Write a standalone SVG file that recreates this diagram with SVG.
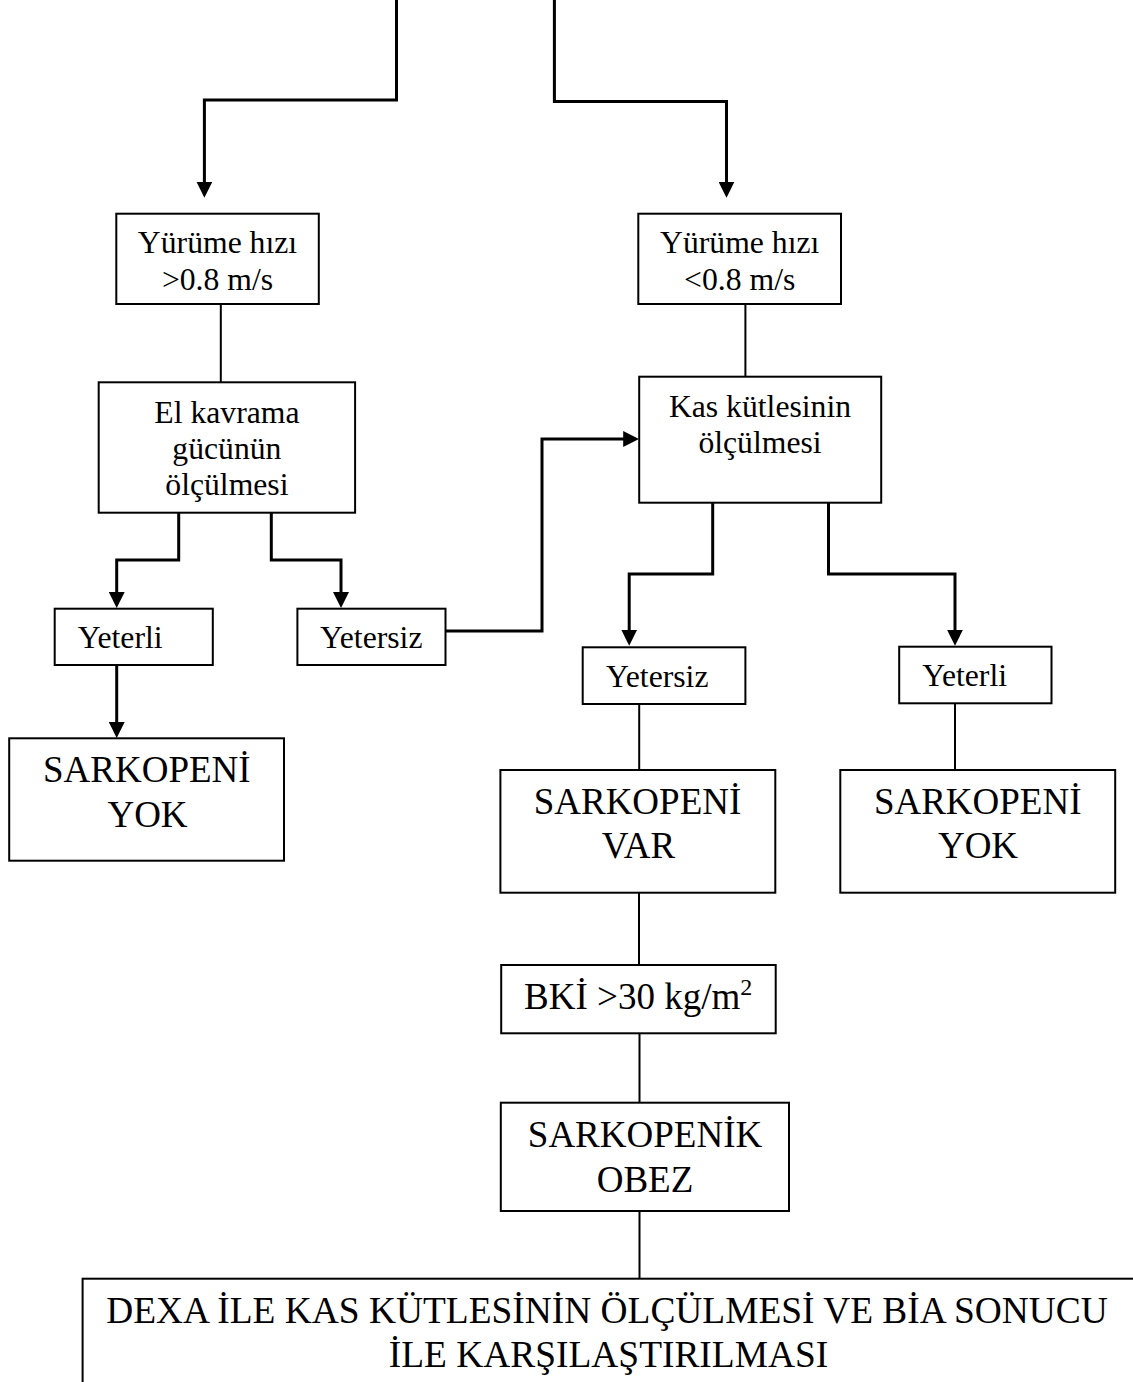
<svg xmlns="http://www.w3.org/2000/svg" width="1133" height="1382" viewBox="0 0 1133 1382">
<style>
.box{fill:#fff;stroke:#000;stroke-width:2}
.arr{fill:none;stroke:#000;stroke-width:3;marker-end:url(#ah)}
.ln{fill:none;stroke:#000;stroke-width:2}
text{font-family:"Liberation Serif","Times New Roman",serif;fill:#000;text-anchor:middle}
.s{font-size:31.7px}
.b{font-size:37px}
.d{font-size:37.4px}
</style>
<defs>
<marker id="ah" markerUnits="userSpaceOnUse" markerWidth="16" markerHeight="16" viewBox="0 0 15 15" refX="5" refY="7.5" orient="auto">
<path d="M0,0 L15,7.5 L0,15 z" fill="#000"/>
</marker>
</defs>
<rect width="1133" height="1382" fill="#fff"/>
<g id="connectors">
<path class="arr" d="M396.5,0 V100 H204.4 V187"/>
<path class="arr" d="M554.4,0 V101.5 H726.5 V187"/>
<path class="ln" d="M220.8,304 V382.3"/>
<path class="ln" d="M745.4,304 V376.7"/>
<path class="arr" d="M178.7,512.7 V560 H116.7 V597.3"/>
<path class="arr" d="M271.3,512.7 V560 H341 V597.3"/>
<path class="arr" d="M445.5,631 H542 V439 H628.5"/>
<path class="arr" d="M116.7,665 V727.3"/>
<path class="arr" d="M712.7,502.7 V574 H629.2 V635"/>
<path class="arr" d="M828.5,502.7 V574 H955 V635"/>
<path class="ln" d="M639.2,704 V770"/>
<path class="ln" d="M955,703.3 V770"/>
<path class="ln" d="M639,892.7 V965"/>
<path class="ln" d="M639.5,1033.3 V1102.7"/>
<path class="ln" d="M639.5,1211 V1278.7"/>
</g>
<g id="n-yurume-hizli">
<rect class="box" x="116.3" y="213.7" width="202.5" height="90.3"/>
<text class="s" x="217.5" y="253">Yürüme hızı</text>
<text class="s" x="217.5" y="290">&gt;0.8 m/s</text>
</g>
<g id="n-yurume-yavas">
<rect class="box" x="638.3" y="213.7" width="202.7" height="90.3"/>
<text class="s" x="739.7" y="253">Yürüme hızı</text>
<text class="s" x="739.7" y="290">&lt;0.8 m/s</text>
</g>
<g id="n-el-kavrama">
<rect class="box" x="98.7" y="382.3" width="256.4" height="130.4"/>
<text class="s" x="226.9" y="422.5">El kavrama</text>
<text class="s" x="226.9" y="458.5">gücünün</text>
<text class="s" x="226.9" y="495">ölçülmesi</text>
</g>
<g id="n-kas-kutlesi">
<rect class="box" x="639.2" y="376.7" width="242" height="126"/>
<text class="s" x="760" y="416.7">Kas kütlesinin</text>
<text class="s" x="760" y="453.3">ölçülmesi</text>
</g>
<g id="n-yeterli-1">
<rect class="box" x="54.7" y="608.7" width="158.1" height="56.3"/>
<text class="s" x="120.2" y="648.3">Yeterli</text>
</g>
<g id="n-yetersiz-1">
<rect class="box" x="297.4" y="608.7" width="148.1" height="56.3"/>
<text class="s" x="371.3" y="648.3">Yetersiz</text>
</g>
<g id="n-yetersiz-2">
<rect class="box" x="582.7" y="647.3" width="162.7" height="56.7"/>
<text class="s" x="657.3" y="686.7">Yetersiz</text>
</g>
<g id="n-yeterli-2">
<rect class="box" x="899.2" y="646.7" width="152.3" height="56.6"/>
<text class="s" x="964.6" y="686">Yeterli</text>
</g>
<g id="n-sarkopeni-yok-1">
<rect class="box" x="9.2" y="738.3" width="274.8" height="122.4"/>
<text class="b" x="146.8" y="782.3">SARKOPENİ</text>
<text class="b" x="147.5" y="826.7">YOK</text>
</g>
<g id="n-sarkopeni-var">
<rect class="box" x="500.4" y="770" width="274.9" height="122.7"/>
<text class="b" x="637.5" y="814">SARKOPENİ</text>
<text class="b" x="638.5" y="858.3">VAR</text>
</g>
<g id="n-sarkopeni-yok-2">
<rect class="box" x="840.3" y="770" width="274.9" height="122.7"/>
<text class="b" x="977.7" y="814">SARKOPENİ</text>
<text class="b" x="978" y="858.3">YOK</text>
</g>
<g id="n-bki">
<rect class="box" x="501.2" y="965" width="274.5" height="68.3"/>
<text class="b" x="638.2" y="1009.3">BKİ &gt;30 kg/m<tspan font-size="24" dy="-14">2</tspan></text>
</g>
<g id="n-sarkopenik-obez">
<rect class="box" x="500.8" y="1102.7" width="288.2" height="108.3"/>
<text class="b" x="645" y="1147.3">SARKOPENİK</text>
<text class="b" x="645" y="1191.7">OBEZ</text>
</g>
<g id="n-dexa">
<rect class="box" x="82.6" y="1278.7" width="1052" height="140"/>
<text class="d" x="607" y="1323.3">DEXA İLE KAS KÜTLESİNİN ÖLÇÜLMESİ VE BİA SONUCU</text>
<text class="d" x="608.5" y="1366.7">İLE KARŞILAŞTIRILMASI</text>
</g>
</svg>
